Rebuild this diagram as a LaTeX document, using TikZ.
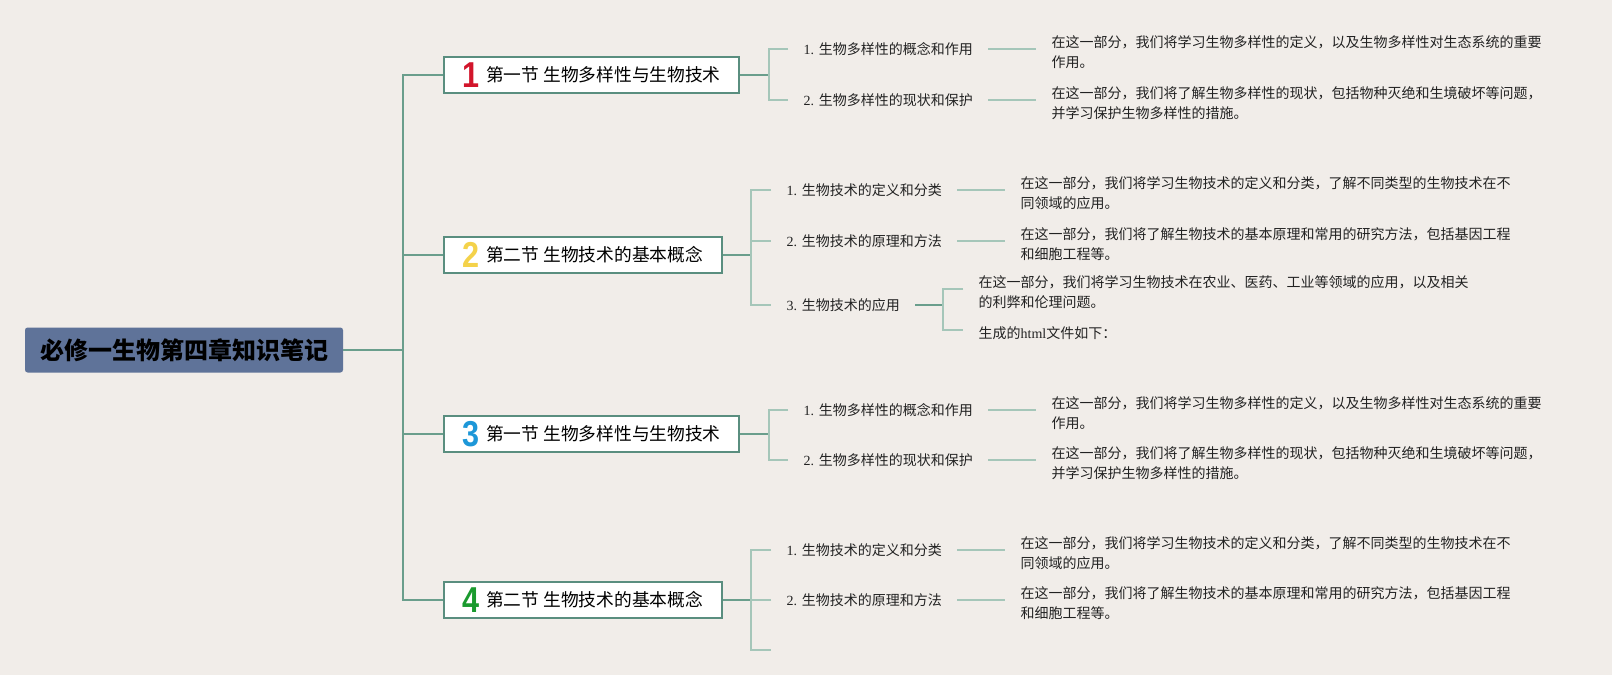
\documentclass[tikz,border=0pt]{standalone}
\usepackage{fontspec}
\usepackage{graphicx}
\setmainfont{Liberation Serif}
\newfontfamily\cjk{Noto Sans CJK SC}
\newfontfamily\numfont{Liberation Sans}
\definecolor{bgpaper}{HTML}{F1EDE9}
\definecolor{rootblue}{HTML}{5F7399}
\definecolor{boxedge}{HTML}{5A8E7F}
\definecolor{linedark}{HTML}{6A9E8C}
\definecolor{linelight}{HTML}{A5C6B9}
\definecolor{inkgray}{HTML}{222222}
\definecolor{numred}{HTML}{D2152B}
\definecolor{numyellow}{HTML}{F4D24A}
\definecolor{numblue}{HTML}{1D97D8}
\definecolor{numgreen}{HTML}{1A9A2E}
\newcommand\secnum[2]{\raisebox{-4.5pt}{\color{#1}\numfont\bfseries\fontsize{27pt}{27pt}\selectfont\scalebox{0.85}[1]{#2}}\hspace{5pt}}

\begin{document}
\begin{tikzpicture}[x=0.75pt, y=-0.75pt,
    rootbox/.style={fill=rootblue, rounded corners=2pt, minimum width=238.5pt, minimum height=33.75pt, text=black, font=\cjk\bfseries\fontsize{18pt}{20pt}\selectfont},
    secbox/.style={draw=boxedge, line width=1.5pt, fill=white, anchor=west, minimum height=27pt, inner xsep=13.9pt, font=\fontsize{13.3pt}{16pt}\selectfont},
    topic/.style={anchor=west, inner xsep=11.5pt, inner ysep=2pt, text=inkgray, font=\fontsize{10.5pt}{15pt}\selectfont},
    leaf/.style={topic, align=left},
    mainline/.style={draw=linedark, line width=1.1pt},
    subline/.style={draw=linelight, line width=1pt}]
    \fill[bgpaper] (0,0) rectangle (1612,675);

    \node[rootbox] (root) at (184,350) {必修一生物第四章知识笔记};
    \coordinate (trunk) at (403,350);

    \node[secbox] (b1) at (443,75) {\secnum{numred}{1}{\cjk 第一节 生物多样性与生物技术}};
    \node[secbox] (b2) at (443,255) {\secnum{numyellow}{2}{\cjk 第二节 生物技术的基本概念}};
    \node[secbox] (b3) at (443,434) {\secnum{numblue}{3}{\cjk 第一节 生物多样性与生物技术}};
    \node[secbox] (b4) at (443,600) {\secnum{numgreen}{4}{\cjk 第二节 生物技术的基本概念}};

    \draw[mainline] (root.east) -- (trunk);
    \draw[mainline] (b1.west) -| (trunk |- b4.west) -- (b4.west);
    \draw[mainline] (trunk |- b2.west) -- (b2.west);
    \draw[mainline] (trunk |- b3.west) -- (b3.west);

    \node[topic] (l11) at (788,49) {1. {\cjk 生物多样性的概念和作用}};
    \node[topic] (l12) at (788,100) {2. {\cjk 生物多样性的现状和保护}};
    \node[leaf] (t11) at (1036,52) {\cjk 在这一部分，我们将学习生物多样性的定义，以及生物多样性对生态系统的重要\\\cjk 作用。};
    \node[leaf] (t12) at (1036,103) {\cjk 在这一部分，我们将了解生物多样性的现状，包括物种灭绝和生境破坏等问题，\\\cjk 并学习保护生物多样性的措施。};
    \coordinate (s1) at (769,75);
    \draw[mainline] (b1.east) -- (s1);
    \draw[subline] (l11.west) -| (s1) |- (l12.west);
    \draw[subline] (l11.east) -- (l11.east -| t11.west);
    \draw[subline] (l12.east) -- (l12.east -| t12.west);

    \node[topic] (l21) at (771,190) {1. {\cjk 生物技术的定义和分类}};
    \node[topic] (l22) at (771,241) {2. {\cjk 生物技术的原理和方法}};
    \node[topic] (l23) at (771,305) {3. {\cjk 生物技术的应用}};
    \node[leaf] (t21) at (1005,193) {\cjk 在这一部分，我们将学习生物技术的定义和分类，了解不同类型的生物技术在不\\\cjk 同领域的应用。};
    \node[leaf] (t22) at (1005,244) {\cjk 在这一部分，我们将了解生物技术的基本原理和常用的研究方法，包括基因工程\\\cjk 和细胞工程等。};
    \node[leaf] (t231) at (963,292) {\cjk 在这一部分，我们将学习生物技术在农业、医药、工业等领域的应用，以及相关\\\cjk 的利弊和伦理问题。};
    \node[leaf] (t232) at (963,333) {{\cjk 生成的}html{\cjk 文件如下：}};
    \coordinate (s2) at (751,255);
    \coordinate (s23) at (943,305);
    \draw[mainline] (b2.east) -- (s2);
    \draw[subline] (l21.west) -| (s2) |- (l23.west);
    \draw[subline] (s2 |- l22.west) -- (l22.west);
    \draw[subline] (l21.east) -- (l21.east -| t21.west);
    \draw[subline] (l22.east) -- (l22.east -| t22.west);
    \draw[mainline] (l23.east) -- (s23);
    \draw[subline] ([yshift=2.25pt]t231.west) -| (s23) |- ([yshift=2.25pt]t232.west);

    \node[topic] (l31) at (788,410) {1. {\cjk 生物多样性的概念和作用}};
    \node[topic] (l32) at (788,460) {2. {\cjk 生物多样性的现状和保护}};
    \node[leaf] (t31) at (1036,413) {\cjk 在这一部分，我们将学习生物多样性的定义，以及生物多样性对生态系统的重要\\\cjk 作用。};
    \node[leaf] (t32) at (1036,463) {\cjk 在这一部分，我们将了解生物多样性的现状，包括物种灭绝和生境破坏等问题，\\\cjk 并学习保护生物多样性的措施。};
    \coordinate (s3) at (769,434);
    \draw[mainline] (b3.east) -- (s3);
    \draw[subline] (l31.west) -| (s3) |- (l32.west);
    \draw[subline] (l31.east) -- (l31.east -| t31.west);
    \draw[subline] (l32.east) -- (l32.east -| t32.west);

    \node[topic] (l41) at (771,550) {1. {\cjk 生物技术的定义和分类}};
    \node[topic] (l42) at (771,600) {2. {\cjk 生物技术的原理和方法}};
    \node[leaf] (t41) at (1005,553) {\cjk 在这一部分，我们将学习生物技术的定义和分类，了解不同类型的生物技术在不\\\cjk 同领域的应用。};
    \node[leaf] (t42) at (1005,603) {\cjk 在这一部分，我们将了解生物技术的基本原理和常用的研究方法，包括基因工程\\\cjk 和细胞工程等。};
    \coordinate (s4) at (751,600);
    \coordinate (e43) at (771,650);
    \draw[mainline] (b4.east) -- (s4);
    \draw[subline] (l41.west) -| (s4) |- (e43);
    \draw[subline] (l42.west) -- (s4);
    \draw[subline] (l41.east) -- (l41.east -| t41.west);
    \draw[subline] (l42.east) -- (l42.east -| t42.west);
\end{tikzpicture}
\end{document}
